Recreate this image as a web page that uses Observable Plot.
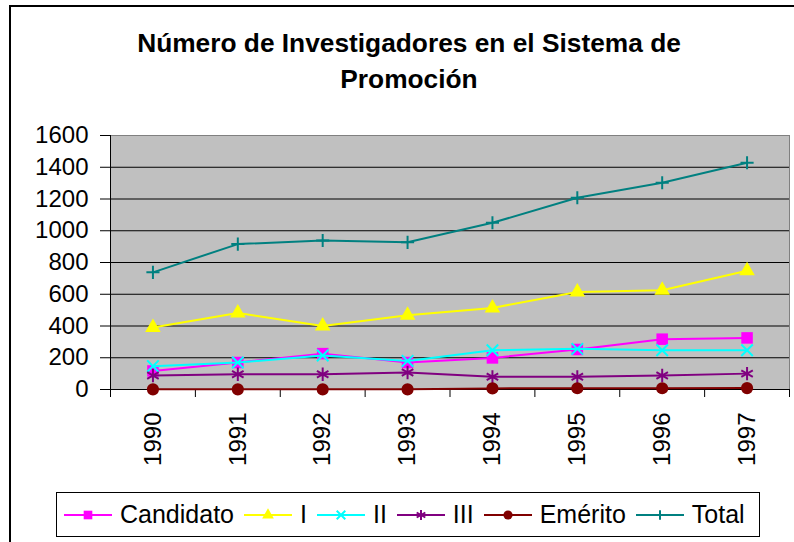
<!DOCTYPE html>
<html><head><meta charset="utf-8">
<script src="https://cdn.jsdelivr.net/npm/d3@7"></script>
<script src="https://cdn.jsdelivr.net/npm/@observablehq/plot@0.6"></script>
<style>
body{margin:0;background:#fff;}
#wrap{position:relative;width:794px;height:542px;overflow:hidden;font-family:"Liberation Sans",Arial,sans-serif;color:#000;}
#border{position:absolute;left:9px;top:5px;width:900px;height:700px;border-left:2px solid #000;border-top:2px solid #000;}
#title{position:absolute;left:0;top:0;width:818px;text-align:center;font-weight:bold;font-size:26.3px;line-height:36px;padding-top:25px;margin:0;}
#chart{position:absolute;left:0;top:100px;}
#legend{position:absolute;left:56px;top:492px;width:695px;height:43px;border:1px solid #000;background:#fff;display:flex;align-items:center;padding-left:7px;box-sizing:content-box;font-size:25px;}
.item{display:flex;align-items:center;margin-right:10px;}
.item svg{margin-right:8px;}
</style>
</head><body>
<div id="wrap">
  <div id="border"></div>
  <h1 id="title">Número de Investigadores en el Sistema de<br>Promoción</h1>
  <div id="chart"></div>
  <div id="legend"></div>
</div>
<script>
const years = [1990, 1991, 1992, 1993, 1994, 1995, 1996, 1997];
const candidato = [117, 170, 226, 170, 199, 252, 317, 325];
const nivelI = [390, 482, 400, 467, 514, 614, 625, 748];
const nivelII = [147, 170, 214, 180, 247, 256, 247, 247];
const nivelIII = [88, 96, 96, 107, 80, 80, 88, 100];
const emerito = [1, 1, 1, 1, 7, 8, 8, 9];
const total = [738, 916, 939, 927, 1050, 1208, 1302, 1428];
const yTicks = [0, 200, 400, 600, 800, 1000, 1200, 1400, 1600];

const seriesNames = ["Candidato", "I", "II", "III", "Emérito", "Total"];
const seriesValues = [candidato, nivelI, nivelII, nivelIII, emerito, total];
const seriesColors = ["#ff00ff", "#ffff00", "#00ffff", "#800080", "#800000", "#008080"];
const seriesSymbols = ["square", "triangle", "times", "asterisk", "circle", "plus"];
const symbolRadius = [6.5, 5.8, 5.3, 6.3, 6.1, 4.3];
const symbolFilled = [true, true, false, false, true, false];

const bounds = years.map(y => y - 0.5).concat([years[years.length - 1] + 0.5]);

const marks = [
  Plot.frame({fill: "#c0c0c0", stroke: "#808080"}),
  Plot.ruleY(yTicks.filter(v => v > 0 && v < 1600), {stroke: "#000"}),
  Plot.ruleY([0], {stroke: "#000"}),
  Plot.ruleX([bounds[0]], {stroke: "#000"}),
  Plot.axisY({ticks: yTicks, tickSize: 10, tickPadding: 12, tickFormat: d => String(d), label: null}),
  Plot.axisX({ticks: bounds, tickSize: 8, tickFormat: () => "", label: null}),
  Plot.axisX({ticks: years, tickSize: 0, tickPadding: 23, tickRotate: -90, tickFormat: d => String(d), label: null})
];

seriesNames.forEach((name, i) => {
  const rows = years.map((year, j) => ({year, value: seriesValues[i][j], series: name}));
  marks.push(Plot.line(rows, {x: "year", y: "value", stroke: seriesColors[i], strokeWidth: 2}));
  marks.push(Plot.dot(rows, {
    x: "year", y: "value", symbol: seriesSymbols[i], r: symbolRadius[i],
    fill: symbolFilled[i] ? seriesColors[i] : "none",
    stroke: symbolFilled[i] ? "none" : seriesColors[i],
    strokeWidth: 2
  }));
});

const chart = Plot.plot({
  width: 794,
  height: 380,
  marginLeft: 110,
  marginRight: 5,
  marginTop: 35,
  marginBottom: 91,
  x: {type: "linear", domain: [bounds[0], bounds[bounds.length - 1]]},
  y: {domain: [0, 1600]},
  style: {fontFamily: "'Liberation Sans', Arial, sans-serif", fontSize: "24px", color: "#000", background: "transparent", overflow: "visible"},
  marks
});
document.getElementById("chart").appendChild(chart);

// Legend
const symbolTypes = {square: d3.symbolSquare, triangle: d3.symbolTriangle, times: d3.symbolTimes, asterisk: d3.symbolAsterisk, circle: d3.symbolCircle, plus: d3.symbolPlus};
const legend = d3.select("#legend");
seriesNames.forEach((name, i) => {
  const item = legend.append("div").attr("class", "item");
  const svg = item.append("svg").attr("width", 48).attr("height", 20);
  svg.append("line").attr("x1", 0).attr("x2", 48).attr("y1", 10).attr("y2", 10)
    .attr("stroke", seriesColors[i]).attr("stroke-width", 2);
  const r = symbolRadius[i] * 0.75;
  svg.append("path")
    .attr("transform", "translate(24,10)")
    .attr("d", d3.symbol(symbolTypes[seriesSymbols[i]], Math.PI * r * r)())
    .attr("fill", symbolFilled[i] ? seriesColors[i] : "none")
    .attr("stroke", symbolFilled[i] ? "none" : seriesColors[i])
    .attr("stroke-width", 2);
  item.append("span").text(name);
});
</script>
</body></html>
